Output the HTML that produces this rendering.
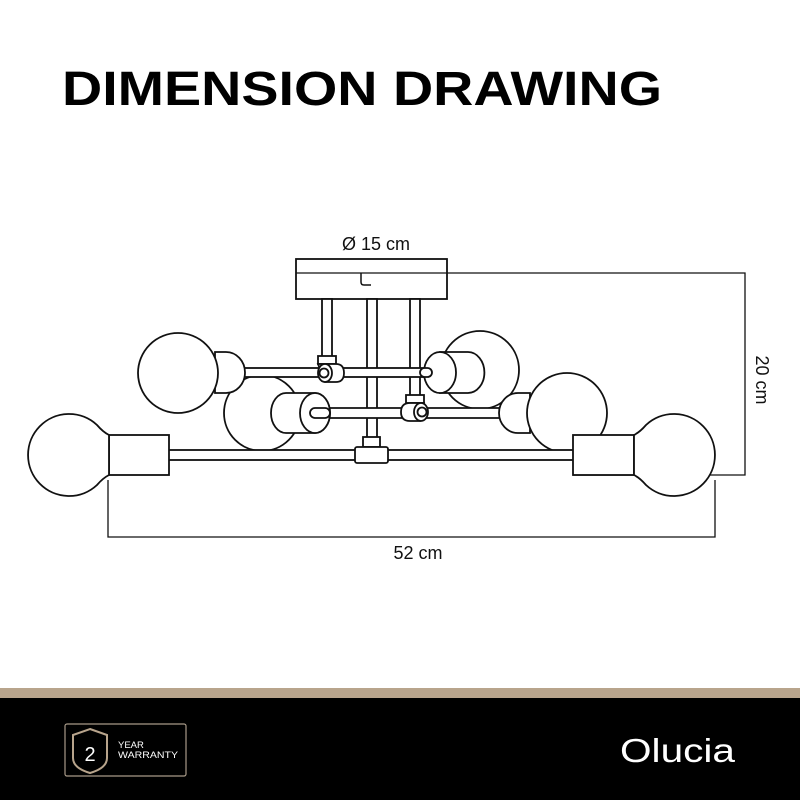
<!DOCTYPE html>
<html><head><meta charset="utf-8"><style>
html,body{margin:0;padding:0;background:#fff}
svg{display:block}
</style></head><body>
<svg width="800" height="800" viewBox="0 0 800 800" xmlns="http://www.w3.org/2000/svg" font-family="Liberation Sans, sans-serif">
<rect width="800" height="800" fill="#fff"/>
<text x="62" y="105" font-size="48" font-weight="bold" textLength="600" lengthAdjust="spacingAndGlyphs" fill="#000">DIMENSION DRAWING</text>

<g fill="#fff" stroke="#111" stroke-width="1.8">
<polyline points="447,273 745,273 745,475 573,475" fill="none" stroke-width="1.3"/>
<polyline points="108,480 108,537 715,537 715,480" fill="none" stroke-width="1.3"/>

<rect x="296" y="259" width="151" height="40"/>
<line x1="296" y1="273" x2="447" y2="273" stroke-width="1.3"/>
<path d="M361,273 V282 Q361,285 364,285 H371" fill="none" stroke-width="1.5"/>

<circle cx="480" cy="370" r="39"/>
<circle cx="262" cy="413" r="38"/>

<rect x="322" y="299" width="10" height="60"/>
<rect x="410" y="299" width="10" height="100"/>
<rect x="367" y="299" width="10" height="142"/>

<rect x="240" y="368" width="195" height="9"/>
<path d="M440,352 H468 A16,20 0 0 1 468,393 H440 Z"/>
<ellipse cx="440" cy="372.5" rx="16" ry="20.5"/>
<rect x="420" y="368" width="12" height="9" rx="4.5"/>
<rect x="318" y="356" width="18" height="8"/>
<path d="M318,364 H336 Q344,364 344,373 Q344,382 336,382 H325 Z"/>
<ellipse cx="325" cy="373" rx="7" ry="9"/>
<circle cx="324" cy="373" r="4.5"/>

<path d="M215,352 H226 A19,20.5 0 0 1 226,393 H215 Z"/>
<circle cx="178" cy="373" r="40"/>

<rect x="313" y="408" width="195" height="10" rx="5"/>
<path d="M286,393 H315 A15,20 0 0 1 315,433 H286 A15,20 0 0 1 286,393 Z"/>
<ellipse cx="315" cy="413" rx="15" ry="20"/>
<rect x="310" y="408" width="20" height="10" rx="5"/>
<rect x="406" y="395" width="18" height="8"/>
<path d="M424,403 H410 Q401,403 401,412 Q401,421 410,421 H420 Z"/>
<ellipse cx="421" cy="412" rx="7" ry="9"/>
<circle cx="422" cy="412" r="4.5"/>
<path d="M530,393 H518 A19,20 0 0 0 518,433 H530 Z"/>
<circle cx="567" cy="413" r="40"/>

<rect x="168" y="450" width="408" height="10"/>
<rect x="363" y="437" width="17" height="10"/>
<rect x="355" y="447" width="33" height="16" rx="2"/>
<rect x="109" y="435" width="60" height="40"/>
<path d="M109,435 Q103,432 97,425 A41,41 0 1 0 97,485 Q103,478 109,475 Z"/>
<rect x="573" y="435" width="61" height="40"/>
<path d="M634,435 Q640,432 646,425 A41,41 0 1 1 646,485 Q640,478 634,475 Z"/>
</g>

<text x="376" y="250" font-size="18" text-anchor="middle" fill="#111">Ø 15 cm</text>
<text x="418" y="559" font-size="18" text-anchor="middle" fill="#111">52 cm</text>
<text x="0" y="0" font-size="18" text-anchor="middle" fill="#111" transform="translate(756,380) rotate(90)">20 cm</text>

<rect x="0" y="688" width="800" height="10" fill="#b8a48c"/>
<rect x="0" y="698" width="800" height="102" fill="#000"/>
<rect x="65" y="724" width="121" height="52" rx="2" fill="none" stroke="#a89a88" stroke-width="1.2"/>
<path d="M90,729 L107,735 V758 Q107,768 90,773 Q73,768 73,758 V735 Z" fill="none" stroke="#b8a48c" stroke-width="2"/>
<text x="90" y="761" font-size="20" fill="#fff" text-anchor="middle">2</text>
<text x="118" y="748" font-size="9.5" fill="#fff">YEAR</text>
<text x="118" y="758" font-size="9.5" fill="#fff" textLength="60" lengthAdjust="spacingAndGlyphs">WARRANTY</text>
<text x="620" y="762" font-size="33" fill="#fff" textLength="115" lengthAdjust="spacingAndGlyphs">Olucia</text>
</svg>
</body></html>
